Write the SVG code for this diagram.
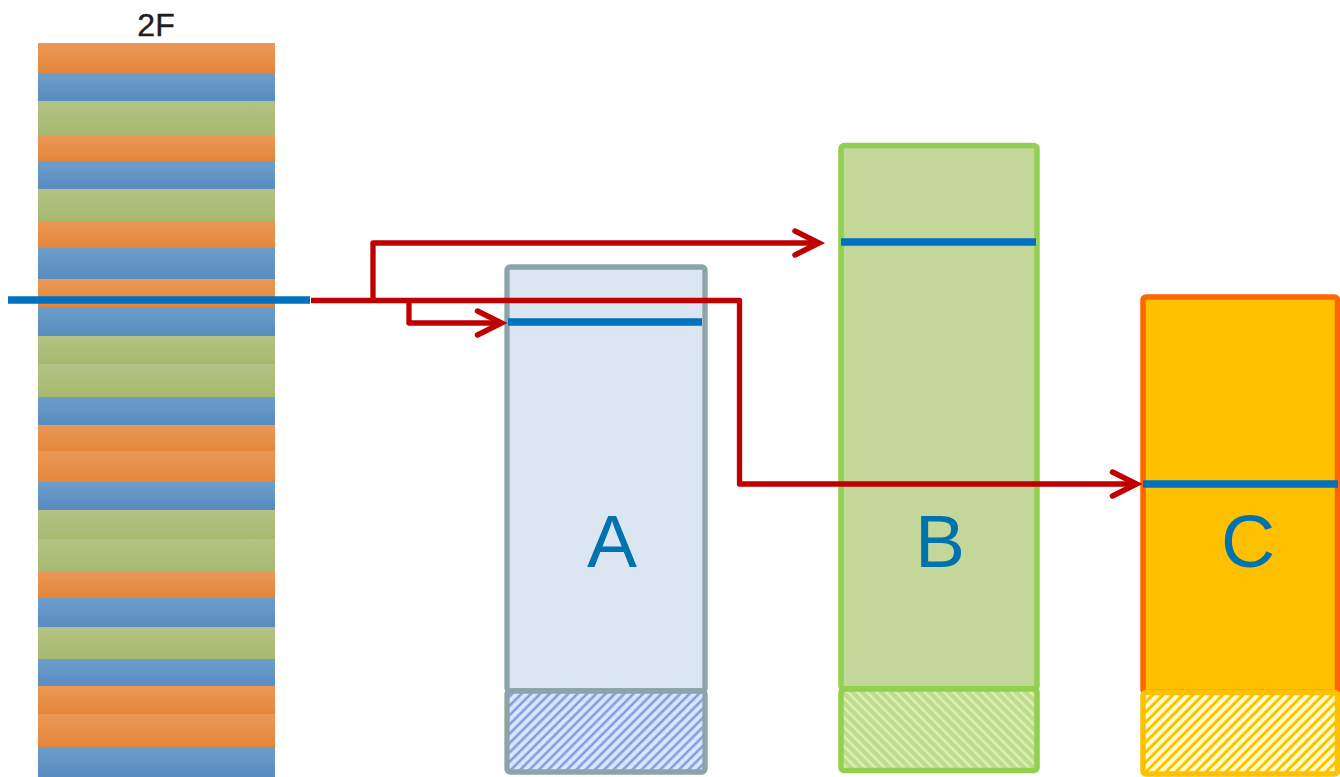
<svg xmlns="http://www.w3.org/2000/svg" width="1340" height="777" viewBox="0 0 1340 777">
<style>
.o{fill:url(#gO)}.b{fill:url(#gB)}.g{fill:url(#gG)}
.red{fill:none;stroke:#C00000;stroke-width:5.3;stroke-linejoin:round}
.blue{stroke:#0070C0;stroke-width:7.5}
.lbl{font-family:"Liberation Sans",Arial,sans-serif;font-size:75px;fill:#0072AE;text-anchor:middle}
</style>
<defs>
<linearGradient id="gO" x1="0" y1="0" x2="0" y2="1"><stop offset="0" stop-color="#EB9856"/><stop offset="1" stop-color="#E4863A"/></linearGradient>
<linearGradient id="gB" x1="0" y1="0" x2="0" y2="1"><stop offset="0" stop-color="#6C9ECC"/><stop offset="1" stop-color="#598CBF"/></linearGradient>
<linearGradient id="gG" x1="0" y1="0" x2="0" y2="1"><stop offset="0" stop-color="#B4C384"/><stop offset="1" stop-color="#A7B96F"/></linearGradient>
<pattern id="hA" width="6.6" height="6.6" patternUnits="userSpaceOnUse" patternTransform="rotate(45)"><rect width="6.6" height="6.6" fill="#CCECFF"/><rect width="2.7" height="6.6" fill="#9A98E0"/></pattern>
<pattern id="hB" width="6.8" height="6.8" patternUnits="userSpaceOnUse" patternTransform="rotate(-45)"><rect width="6.8" height="6.8" fill="#C4D79B"/><rect width="2.4" height="6.8" fill="#D2F99A"/></pattern>
<pattern id="hC" width="7.07" height="7.07" patternUnits="userSpaceOnUse" patternTransform="rotate(45)"><rect width="7.07" height="7.07" fill="#FFC000"/><rect width="4.2" height="7.07" fill="#FFFFCC"/></pattern>
<marker id="ar" viewBox="-30 -16 36 32" markerWidth="36" markerHeight="32" refX="0" refY="0" markerUnits="userSpaceOnUse" orient="auto" overflow="visible"><path d="M-24,-12 L0,0 L-24,12" fill="none" stroke="#C00000" stroke-width="5.5" stroke-linecap="round" stroke-linejoin="miter"/></marker>
</defs>
<rect width="1340" height="777" fill="#FFFFFF"/>
<g id="node-2F">
<text x="156" y="36" font-family="'Liberation Sans',Arial,sans-serif" font-size="32" fill="#1E1E1E" stroke="#1E1E1E" stroke-width="0.4" text-anchor="middle">2F</text>
<rect class="o" x="38" y="43" width="237" height="30"/>
<rect class="b" x="38" y="73" width="237" height="28"/>
<rect class="g" x="38" y="101" width="237" height="34"/>
<rect class="o" x="38" y="135" width="237" height="26"/>
<rect class="b" x="38" y="161" width="237" height="28"/>
<rect class="g" x="38" y="189" width="237" height="33"/>
<rect class="o" x="38" y="222" width="237" height="26"/>
<rect class="b" x="38" y="248" width="237" height="31"/>
<rect class="o" x="38" y="279" width="237" height="28"/>
<rect class="b" x="38" y="307" width="237" height="29"/>
<rect class="g" x="38" y="336" width="237" height="28"/>
<rect class="g" x="38" y="364" width="237" height="33"/>
<rect class="b" x="38" y="397" width="237" height="28"/>
<rect class="o" x="38" y="425" width="237" height="26"/>
<rect class="o" x="38" y="451" width="237" height="31"/>
<rect class="b" x="38" y="482" width="237" height="28"/>
<rect class="g" x="38" y="510" width="237" height="29"/>
<rect class="g" x="38" y="539" width="237" height="33"/>
<rect class="o" x="38" y="572" width="237" height="26"/>
<rect class="b" x="38" y="598" width="237" height="29"/>
<rect class="g" x="38" y="627" width="237" height="32"/>
<rect class="b" x="38" y="659" width="237" height="27"/>
<rect class="o" x="38" y="686" width="237" height="28"/>
<rect class="o" x="38" y="714" width="237" height="33"/>
<rect class="b" x="38" y="747" width="237" height="30"/>
<line class="blue" x1="8" y1="300" x2="310" y2="300"/>
</g>
<g id="node-A">
<rect x="507" y="267" width="198" height="424" rx="3" fill="#DCE6F2" stroke="#8BA4A6" stroke-width="5.3"/>
<rect x="507" y="691" width="198" height="81" rx="3" fill="url(#hA)" stroke="#8BA4A6" stroke-width="5.3"/>
<line class="blue" x1="508" y1="322" x2="702" y2="322"/>
<text class="lbl" x="612" y="567">A</text>
</g>
<g id="node-B">
<rect x="841" y="145.5" width="196" height="543.5" rx="3" fill="#C4D79B" stroke="#92D050" stroke-width="5.5"/>
<rect x="841" y="689" width="196" height="81.5" rx="3" fill="url(#hB)" stroke="#92D050" stroke-width="5.5"/>
<line class="blue" x1="841" y1="242" x2="1036" y2="242"/>
<text class="lbl" x="940" y="567">B</text>
</g>
<g id="node-C">
<rect x="1143" y="297" width="194.5" height="395.5" rx="3" fill="#FFC000" stroke="#FF6600" stroke-width="5.5"/>
<rect x="1143" y="692.5" width="194.5" height="81.5" rx="3" fill="url(#hC)" stroke="#FFC000" stroke-width="5.5"/>
<line class="blue" x1="1143" y1="484" x2="1338" y2="484"/>
<text class="lbl" x="1248" y="567">C</text>
</g>
<g id="connectors">
<path class="red" d="M311,300.5 H739.5 V484 H1136.5" marker-end="url(#ar)"/>
<path class="red" d="M373,300.5 V243 H819" marker-end="url(#ar)"/>
<path class="red" d="M409,300.5 V323 H501.5" marker-end="url(#ar)"/>
</g>
</svg>
